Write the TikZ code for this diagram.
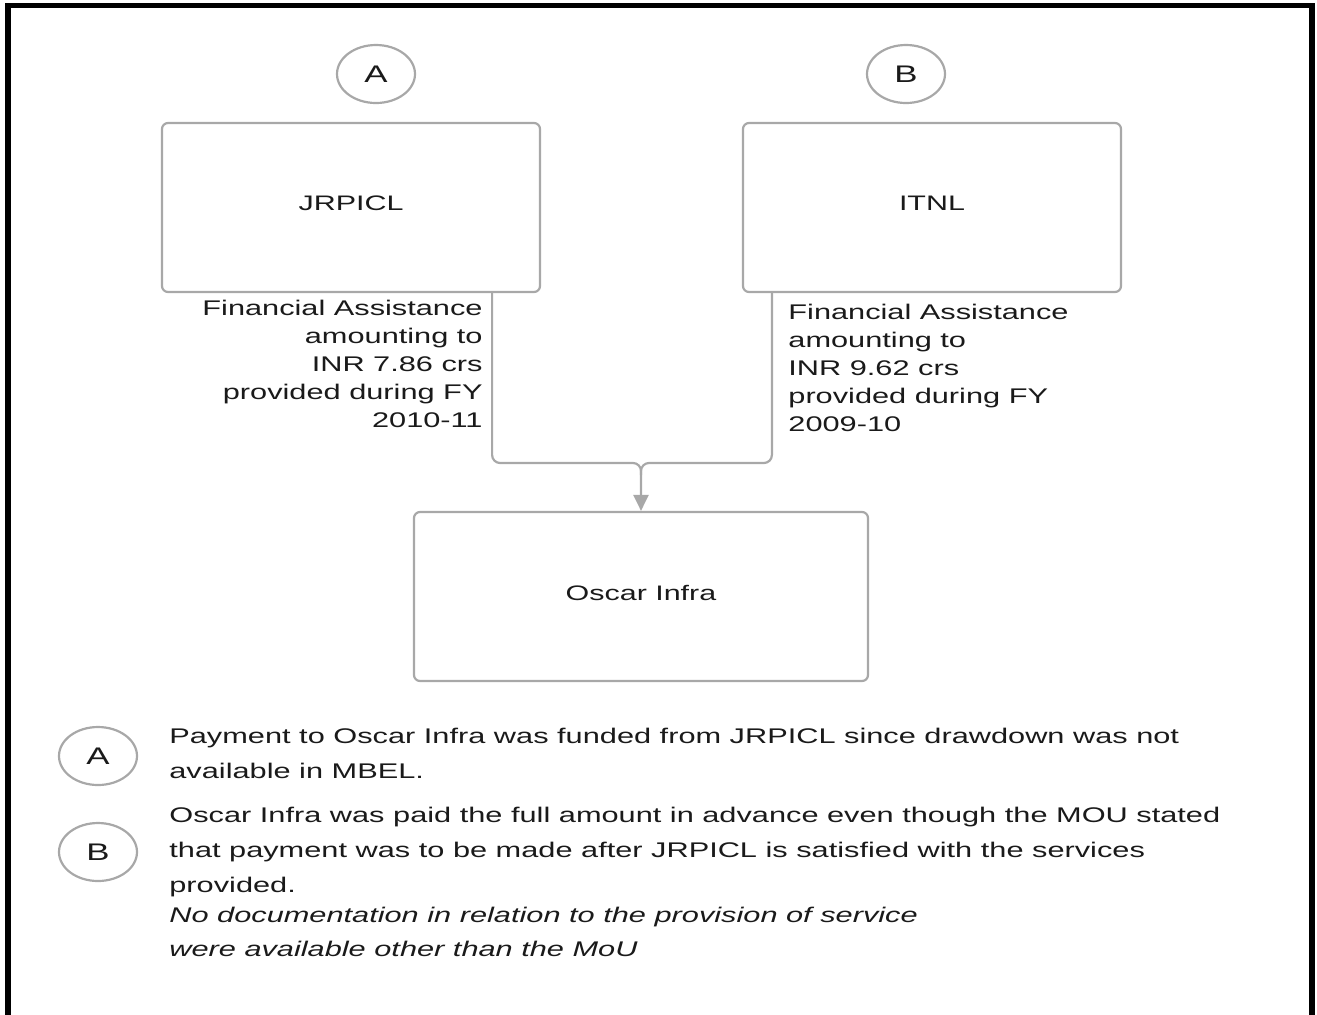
\documentclass[tikz,border=0pt]{standalone}
\usepackage{fontspec}
\setmainfont[FakeStretch=1.45]{Liberation Sans}
\usetikzlibrary{shapes.geometric, arrows.meta, positioning}
\definecolor{linegray}{HTML}{A8A8A8}
\definecolor{inkgray}{HTML}{1A1A1A}

\begin{document}
\begin{tikzpicture}[x=0.5pt,y=-0.5pt,>={Triangle[length=8pt,width=7.5pt]},
        every node/.style={text=inkgray},
        box/.style={draw=linegray,line width=1.1pt,rounded corners=3pt,text depth=4pt,
        minimum width=189pt,minimum height=84.5pt,font=\fontsize{10.5}{12}\selectfont},
        tag/.style={draw=linegray,line width=1.1pt,ellipse,inner sep=0pt,
        minimum width=39pt,minimum height=29pt,font=\fontsize{12}{14}\selectfont},
        link/.style={draw=linegray,line width=1.1pt,rounded corners=4pt},
        fund/.style={inner sep=0pt,font=\fontsize{10.6}{14}\selectfont},
        note/.style={inner sep=0pt,align=left,anchor=north west,
        font=\fontsize{10.6}{17.5}\selectfont}]
      \useasboundingbox (0,0) rectangle (1317,1014);
      \draw[line width=2.8pt] (8,5.5) rectangle (1312,1040);
      \node[tag] (tagA) at (376,74) {A};
      \node[tag] (tagB) at (906,74) {B};
      \node[box] (jrpicl) at (351,207.5) {JRPICL};
      \node[box] (itnl) at (932,207.5) {ITNL};
      \node[box,minimum width=227pt] (oscar) at (641,596.5) {Oscar Infra};
      \coordinate (join) at (641,463);
      \draw[link,->] ([xshift=-24.5pt]jrpicl.south east) |- (join) -- (oscar.north);
      \draw[link] ([xshift=15pt]itnl.south west) |- (join) -- ++(0,12);
      \node[fund,align=right,anchor=north east] (fundA) at (483,300)
        {Financial Assistance\\amounting to\\INR 7.86 crs\\provided during FY\\2010-11};
      \node[fund,align=left,anchor=north west] (fundB) at (788,304)
        {Financial Assistance\\amounting to\\INR 9.62 crs\\provided during FY\\2009-10};
      \node[tag] (keyA) at (98,756) {A};
      \node[tag] (keyB) at (98,852) {B};
      \node[note] (noteA) at (169,728)
        {Payment to Oscar Infra was funded from JRPICL since drawdown was not\\available in MBEL.};
      \node[note] (noteB) at (169,807)
        {Oscar Infra was paid the full amount in advance even though the MOU stated\\that payment was to be made after JRPICL is satisfied with the services\\provided.};
      \node[note,font=\fontsize{10.6}{17}\selectfont\itshape] (noteC) at (169,907)
        {No documentation in relation to the provision of service\\were available other than the MoU};
    \end{tikzpicture}
\end{document}
